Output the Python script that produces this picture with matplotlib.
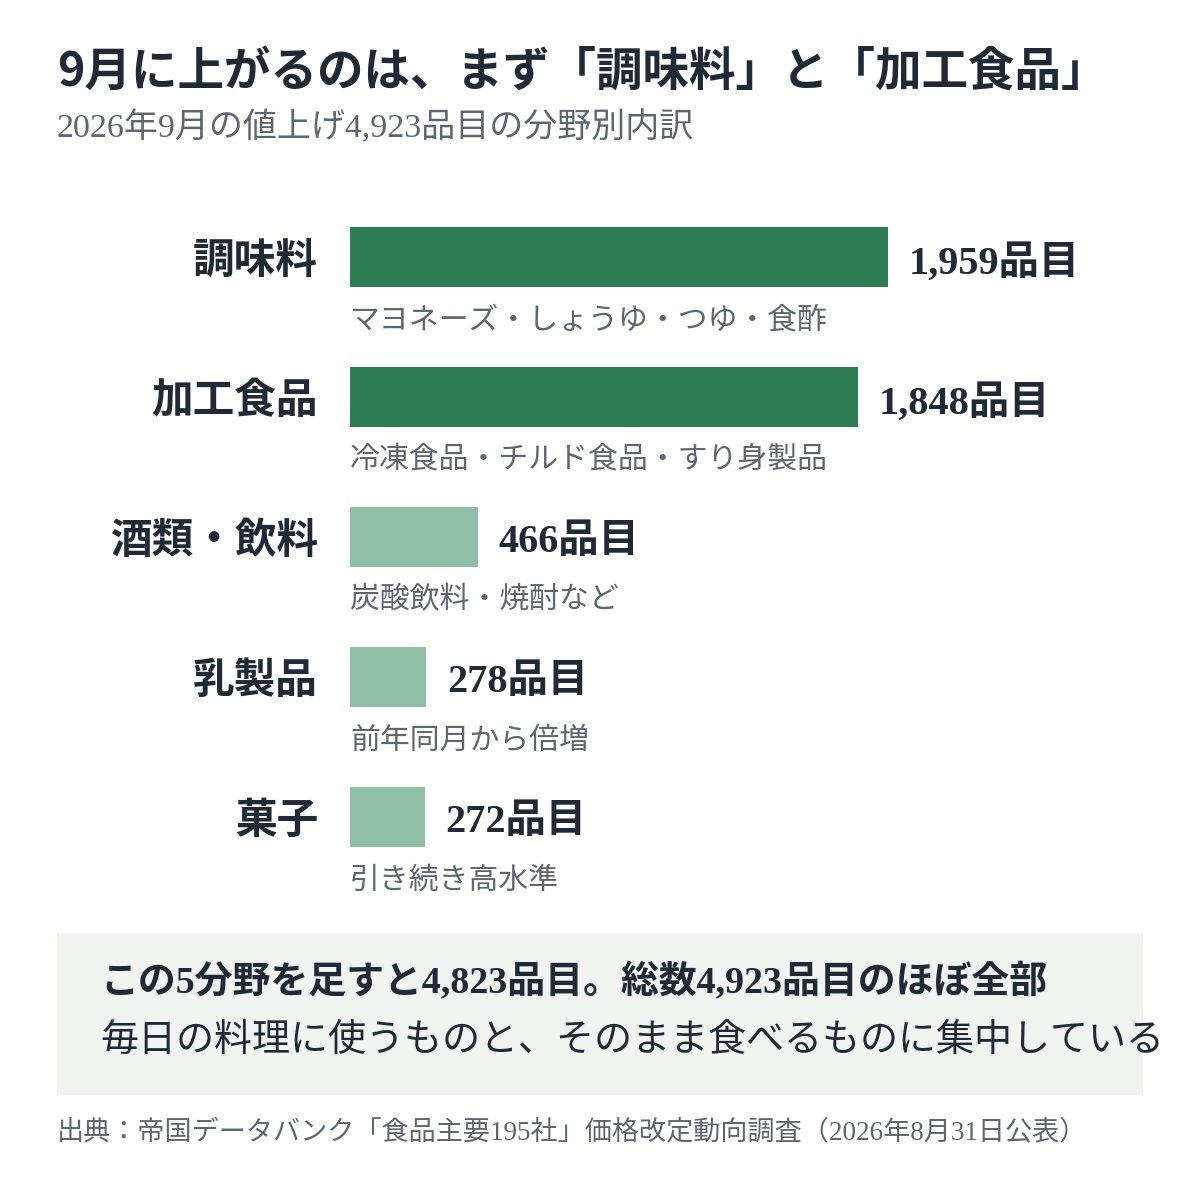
import matplotlib
matplotlib.use("Agg")
import matplotlib.pyplot as plt
from matplotlib.patches import Rectangle

categories = ["調味料", "加工食品", "酒類・飲料", "乳製品", "菓子"]
values = [1959, 1848, 466, 278, 272]
value_labels = ["1,959品目", "1,848品目", "466品目", "278品目", "272品目"]
sub_labels = ["マヨネーズ・しょうゆ・つゆ・食酢", "冷凍食品・チルド食品・すり身製品",
              "炭酸飲料・焼酎など", "前年同月から倍増", "引き続き高水準"]
highlight = [True, True, False, False, False]

title = "9月に上がるのは、まず「調味料」と「加工食品」"
subtitle = "2026年9月の値上げ4,923品目の分野別内訳"
note1 = "この5分野を足すと4,823品目。総数4,923品目のほぼ全部"
note2 = "毎日の料理に使うものと、そのまま食べるものに集中している"
source = "出典：帝国データバンク「食品主要195社」価格改定動向調査（2026年8月31日公表）"

W, H = 1200, 1180
DARK = "#1f2a36"
GRAY = "#5f6670"
C_HI = "#2f7d55"
C_LO = "#8fbfa5"
JP = ["Noto Sans CJK JP", "DejaVu Sans"]
MIX = ["Liberation Serif", "Noto Sans CJK JP", "DejaVu Sans"]

fig = plt.figure(figsize=(W / 100, H / 100), dpi=100)
fig.patch.set_facecolor("white")

def fx(px):
    return px / W

def fy(py):
    return 1 - py / H

# Title and subtitle
fig.text(fx(57), fy(72), title, fontsize=33.5, fontweight="bold", color=DARK,
         family=JP, ha="left", va="center")
fig.text(fx(57), fy(128), subtitle, fontsize=24.5, color=GRAY,
         family=MIX, ha="left", va="center")

# Bar axes: pixel 350 = 0, scale px per item
scale = 538 / 1959
ax_left, ax_right = 350, 1200
ax_top, ax_bot = 187, 887
ax = fig.add_axes([fx(ax_left), fy(ax_bot), (ax_right - ax_left) / W, (ax_bot - ax_top) / H])
ax.set_xlim(0, (ax_right - ax_left) / scale)
ax.set_ylim(len(categories) - 0.5, -0.5)
ax.axis("off")

ypos = list(range(len(categories)))
colors = [C_HI if h else C_LO for h in highlight]
ax.barh(ypos, values, height=60 / 140, color=colors, align="center")

for i, (cat, v, vl, sl) in enumerate(zip(categories, values, value_labels, sub_labels)):
    ax.annotate(cat, xy=(0, i), xytext=(-32, -4), textcoords="offset pixels",
                ha="right", va="center", fontsize=30, fontweight="bold",
                color=DARK, family=JP, annotation_clip=False)
    ax.annotate(vl, xy=(v, i), xytext=(21, -6), textcoords="offset pixels",
                ha="left", va="center", fontsize=29, fontweight="bold",
                color=DARK, family=MIX, annotation_clip=False)
    ax.annotate(sl, xy=(0, i), xytext=(0, -63), textcoords="offset pixels",
                ha="left", va="center", fontsize=21.5, color=GRAY,
                family=JP, annotation_clip=False)

# Callout box
fig.patches.append(Rectangle((fx(57), fy(1095)), fx(1143 - 57), (1095 - 933) / H,
                             transform=fig.transFigure, facecolor="#f1f4f1",
                             edgecolor="none", zorder=0))
fig.text(fx(100), fy(982), note1, fontsize=27.3, fontweight="bold", color=DARK,
         family=MIX, ha="left", va="center")
fig.text(fx(100), fy(1040), note2, fontsize=27.4, color=DARK,
         family=JP, ha="left", va="center")

# Source
fig.text(fx(57), fy(1133), source, fontsize=19.5, color=GRAY,
         family=MIX, ha="left", va="center")

fig.savefig("out.png", dpi=100, facecolor="white")
